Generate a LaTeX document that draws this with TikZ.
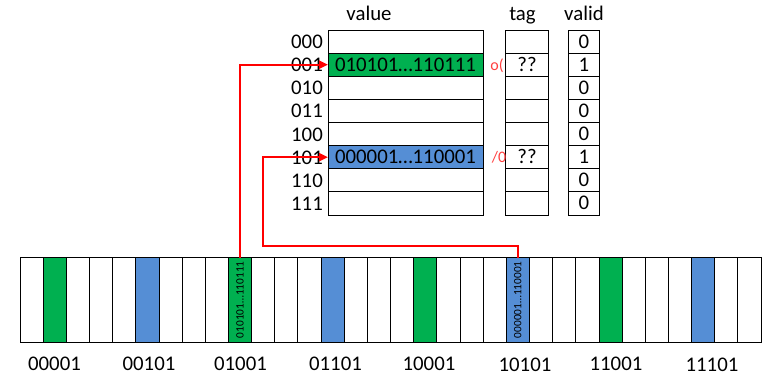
\documentclass[tikz,border=0pt]{standalone}
\usepackage{fontspec}
\setmainfont{Carlito}
\usetikzlibrary{arrows.meta}
\definecolor{cgreen}{RGB}{0,176,80}
\definecolor{cblue}{RGB}{85,142,213}
\definecolor{cred}{RGB}{255,0,0}
\begin{document}
\begin{tikzpicture}[x=1pt,y=-1pt,
  tcell/.style={draw=black, line width=0.8pt, inner sep=0pt, outer sep=0pt, anchor=north west,
    minimum height=23.125pt, text height=13pt, text depth=0pt, font=\fontsize{20.8}{20.8}\selectfont},
  mcell/.style={draw=black, line width=0.8pt, inner sep=0pt, outer sep=0pt, anchor=north west,
    minimum width=23.156pt, minimum height=84.5pt},
  lbl/.style={inner sep=0pt, anchor=base, font=\fontsize{20.8}{20.8}\selectfont},
  rlbl/.style={inner sep=0pt, anchor=base east, font=\fontsize{20.8}{20.8}\selectfont},
  vtext/.style={inner sep=0pt, rotate=90, font=\fontsize{11.3}{11.3}\selectfont},
  note/.style={inner sep=0pt, text=cred!75, font=\fontsize{16}{16}\selectfont},
  link/.style={draw=cred, line width=2pt, -{Triangle[length=9pt,width=8pt]}}
]
\useasboundingbox[fill=white] (0,0) rectangle (783,387);

% headers
\node[lbl] (hval) at (369,20.5) {value};
\node[lbl] (htag) at (522.5,20.5) {tag};
\node[lbl] (hvalid) at (584,20.5) {valid};

% table rows
\foreach \i/\b/\vf/\vt/\tt/\dv in {0/000/white//{}/0, 1/001/cgreen/010101…110111/??/1, 2/010/white//{}/0, 3/011/white//{}/0,
  4/100/white//{}/0, 5/101/cblue/000001…110001/??/1, 6/110/white//{}/0, 7/111/white//{}/0} {
  \node[tcell, fill=\vf, minimum width=155pt] (v\i) at (328,{30+23.125*\i}) {\vt};
  \node[tcell, minimum width=43.4pt] (t\i) at (505.3,{30+23.125*\i}) {\tt};
  \node[tcell, minimum width=30.6pt] (d\i) at (568.7,{30+23.125*\i}) {\dv};
  \node[rlbl] (r\i) at (323,{30+23.125*\i+18.6}) {\b};
}

% memory cells
\foreach \i in {0,...,31} {
  \pgfmathtruncatemacro\r{mod(\i,8)}
  \ifnum\r=1 \def\fc{cgreen}\else\ifnum\r=5 \def\fc{cblue}\else\def\fc{white}\fi\fi
  \node[mcell, fill=\fc] (m\i) at ({20+23.156*\i},257.5) {};
}
\node[vtext] (m9t) at (m9.center) {010101…110111};
\node[vtext] (m21t) at (m21.center) {000001…110001};

% address labels
\node[lbl] (a1) at (54.5,370.7) {00001};
\node[lbl] (a5) at (149,370.7) {00101};
\node[lbl] (a9) at (240.5,370.7) {01001};
\node[lbl] (a13) at (335.5,370.7) {01101};
\node[lbl] (a17) at (429,370.7) {10001};
\node[lbl] (a21) at (525,371.5) {10101};
\node[lbl] (a25) at (616,370.7) {11001};
\node[lbl] (a29) at (712,371.5) {11101};

% red notes
\node[note] (n1) at (497,66) {o(};
\node[note] (n2) at (499,157) {/0};

% connectors
\coordinate (c2) at (263.3,245.7);
\draw[link] (m9.north) |- (v1.west);
\draw[link] (m21.north) |- (c2) |- (v5.west);
\end{tikzpicture}
\end{document}
